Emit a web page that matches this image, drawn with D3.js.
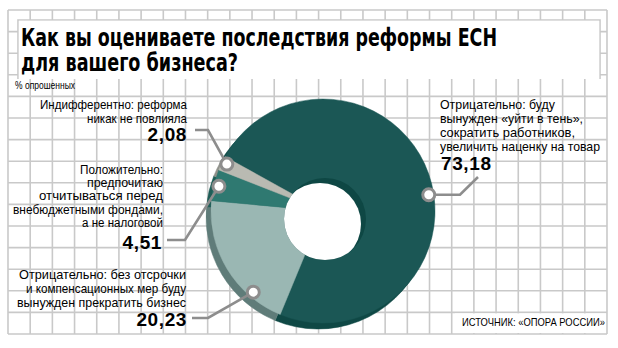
<!DOCTYPE html>
<html><head><meta charset="utf-8">
<script src="https://cdn.jsdelivr.net/npm/d3@7"></script>
<style>html,body{margin:0;padding:0;background:#fff;}svg{display:block}</style>
</head><body>
<svg id="c" width="618" height="348"></svg>
<script>
// ---------- data ----------
const categories = [
  "Отрицательно: буду вынужден «уйти в тень», сократить работников, увеличить наценку на товар",
  "Отрицательно: без отсрочки и компенсационных мер буду вынужден прекратить бизнес",
  "Положительно: предпочитаю отчитываться перед внебюджетными фондами, а не налоговой",
  "Индифферентно: реформа никак не повлияла"
];
const values = [73.18, 20.23, 4.51, 2.08];
const valueLabels = ["73,18", "20,23", "4,51", "2,08"];
const labelLines = [
  ["Отрицательно: буду", "вынужден «уйти в тень»,", "сократить работников,", "увеличить наценку на товар"],
  ["Отрицательно: без отсрочки", "и компенсационных мер буду", "вынужден прекратить бизнес"],
  ["Положительно:", "предпочитаю", "отчитываться перед", "внебюджетными фондами,", "а не налоговой"],
  ["Индифферентно: реформа", "никак не повлияла"]
];
const titleLines = ["Как вы оцениваете последствия реформы ЕСН", "для вашего бизнеса?"];
const unitLabel = "% опрошенных";
const sourceLabel = "ИСТОЧНИК: «ОПОРА РОССИИ»";

// ---------- style / layout ----------
const faceColors = ["#1b5755", "#9ab7b3", "#2f7971", "#b9bab2"];
const rimColors  = ["#0f4845", "#5f7c79", "#1f5d57", "#8f918a"];
const wallColor = "#0e4744";
const cx = 323, cy = 211, rOut = 112, dx = -5, dy = 6;
const hole = { x: 325, y: 219, r: 41, wx: -5, wy: 5 };
const startDeg = -61;
const markerFrac = [0.54, 0.25, 0.5, 0.6];
const markerR = 107;
const gridColor = "#c9c9c9", leadColor = "#8d8d8d";
const labelFont = "'Liberation Sans', 'Arial', sans-serif";

const svg = d3.select("#c");

// grid
const gx = d3.scaleLinear().domain([0, 27]).range([8, 607]);
const gy = d3.scaleLinear().domain([0, 15]).range([10, 334]);
const grid = svg.append("g").attr("stroke", gridColor).attr("stroke-width", 1.6);
grid.selectAll("line.v").data(d3.range(28)).join("line")
  .attr("x1", d => gx(d)).attr("x2", d => gx(d)).attr("y1", gy(0)).attr("y2", gy(15));
grid.selectAll("line.h").data(d3.range(16)).join("line")
  .attr("y1", d => gy(d)).attr("y2", d => gy(d)).attr("x1", gx(0)).attr("x2", gx(27));

// title box
svg.append("path").attr("d", "M18,79 L18,20 L600,20 L600,79")
  .attr("fill", "#fff").attr("stroke", gridColor).attr("stroke-width", 1.6);
svg.append("rect").attr("x", 18.8).attr("y", 20.8).attr("width", 580.4).attr("height", 58).attr("fill", "#fff");
const title = svg.append("g").attr("font-family", "'DejaVu Sans', sans-serif")
  .attr("font-weight", "bold").attr("font-size", 24).attr("fill", "#000");
title.append("text").attr("x", 21).attr("y", 46).attr("textLength", 476).attr("lengthAdjust", "spacingAndGlyphs").text(titleLines[0]);
title.append("text").attr("x", 21).attr("y", 71).attr("textLength", 217).attr("lengthAdjust", "spacingAndGlyphs").text(titleLines[1]);

svg.append("text").attr("x", 15).attr("y", 89).attr("font-family", labelFont)
  .attr("font-size", 11).attr("textLength", 60).attr("lengthAdjust", "spacingAndGlyphs")
  .attr("fill", "#000").text(unitLabel);

// donut
const pie = d3.pie().sort(null).value(d => d)
  .startAngle(startDeg * Math.PI / 180).endAngle((startDeg + 360) * Math.PI / 180);
const arcs = pie(values);
const arc = d3.arc().innerRadius(0).outerRadius(rOut);

svg.append("g").attr("transform", `translate(${cx + dx},${cy + dy})`)
  .selectAll("path").data(arcs).join("path")
  .attr("d", arc).attr("fill", (d, i) => rimColors[i]).attr("stroke", (d, i) => rimColors[i]).attr("stroke-width", 0.5);
svg.append("g").attr("transform", `translate(${cx},${cy})`)
  .selectAll("path").data(arcs).join("path")
  .attr("d", arc).attr("fill", (d, i) => faceColors[i]).attr("stroke", (d, i) => faceColors[i]).attr("stroke-width", 0.5);

// hole with inner wall
svg.append("clipPath").attr("id", "holeClip").append("circle")
  .attr("cx", hole.x).attr("cy", hole.y).attr("r", hole.r);
svg.append("circle").attr("cx", hole.x).attr("cy", hole.y).attr("r", hole.r).attr("fill", wallColor);
svg.append("circle").attr("clip-path", "url(#holeClip)")
  .attr("cx", hole.x + hole.wx).attr("cy", hole.y + hole.wy).attr("r", hole.r).attr("fill", "#fff");

// markers
const markerPos = arcs.map((a, i) => {
  const ang = a.startAngle + (a.endAngle - a.startAngle) * markerFrac[i];
  return [cx + markerR * Math.sin(ang), cy - markerR * Math.cos(ang)];
});

// leader paths (label end -> bend -> marker)
const leaders = [
  m => [[478, 177], [460, m[1]], m],
  m => [[192, 318], [208, 318], m],
  m => [[167, 240], [185, 240], m],
  m => [[195, 130], [208, 130], m]
];
svg.append("g").selectAll("path").data(markerPos).join("path")
  .attr("d", (m, i) => d3.line()(leaders[i](m)))
  .attr("fill", "none").attr("stroke", leadColor).attr("stroke-width", 2.6);
svg.append("g").selectAll("circle").data(markerPos).join("circle")
  .attr("cx", d => d[0]).attr("cy", d => d[1]).attr("r", 6)
  .attr("fill", "#fff").attr("stroke", leadColor).attr("stroke-width", 3);

// labels
const labelLayout = [
  { x: 440, y: 109, step: 14, fs: 13, anchor: "start", nx: 441, ny: 170, w: [115, 143, 135, 160] },
  { x: 186, y: 279, step: 14, fs: 13, anchor: "end", nx: 187, ny: 326, w: [167, 160, 169] },
  { x: 163, y: 174, step: 13.2, fs: 12.5, anchor: "end", nx: 162, ny: 249, w: [83, 76, 124, 150, 81] },
  { x: 187, y: 109, step: 13.5, fs: 13, anchor: "end", nx: 187, ny: 141, w: [147, 100] }
];
const lab = svg.append("g").attr("fill", "#000");
labelLines.forEach((lines, i) => {
  const L = labelLayout[i];
  lines.forEach((t, j) => {
    lab.append("text").attr("x", L.x).attr("y", L.y + j * L.step)
      .attr("text-anchor", L.anchor).attr("font-family", labelFont)
      .attr("font-size", L.fs).attr("textLength", L.w[j]).attr("lengthAdjust", "spacingAndGlyphs").text(t);
  });
  lab.append("text").attr("x", L.nx).attr("y", L.ny).attr("text-anchor", L.anchor)
    .attr("font-family", labelFont).attr("font-weight", "bold")
    .attr("font-size", 19).attr("letter-spacing", 0.6).text(valueLabels[i]);
});

// source
svg.append("rect").attr("x", 455).attr("y", gy(14) + 1).attr("width", 151).attr("height", gy(15) - gy(14) - 2).attr("fill", "#fff");
svg.append("text").attr("x", 605).attr("y", 326).attr("text-anchor", "end")
  .attr("font-family", labelFont).attr("font-size", 11)
  .attr("textLength", 143).attr("lengthAdjust", "spacingAndGlyphs").text(sourceLabel);
</script>
</body></html>
